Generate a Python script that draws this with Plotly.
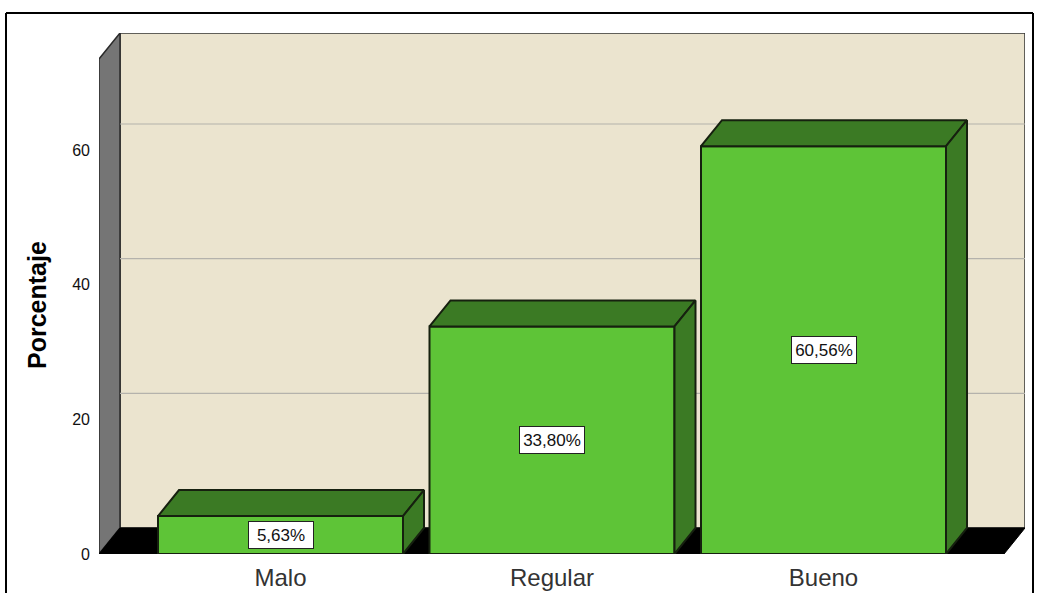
import plotly.graph_objects as go

categories = ["Malo", "Regular", "Bueno"]
values = [5.63, 33.80, 60.56]
labels = ["5,63%", "33,80%", "60,56%"]
y_ticks = [0, 20, 40, 60]

W, H = 1040, 593
L, R, T, B = 99, 1025, 33, 554
px_y = (553 - 149) / 60.0
px_x = 271.5
x0_px = 280.5
depth_px_x, depth_px_y = 21, 26

FONT = "Liberation Sans"
GREEN, DARK = "#5EC437", "#3B7A24"
EDGE = "#16200F"
WALL, SIDE = "#EBE4CF", "#757575"

x_lo = (L - x0_px) / px_x
x_hi = (R - x0_px) / px_x
y_hi = (B - T) / px_y
dx = depth_px_x / px_x
dy = depth_px_y / px_y
bw = 245 / px_x
xs = list(range(len(categories)))
wall_l = x_lo + dx
wall_r = x_hi
floor_r = x_hi - dx


def poly(pts, fill, line="#222222", width=1.5):
    path = "M " + " L ".join(f"{a},{b}" for a, b in pts) + " Z"
    return dict(type="path", path=path, xref="x", yref="y", fillcolor=fill,
                line=dict(color=line, width=width), layer="below")


shapes = [
    poly([(wall_l, dy), (wall_r, dy), (wall_r, y_hi), (wall_l, y_hi)], WALL, "#333333", 1.5),
    poly([(x_lo, 0), (wall_l, dy), (wall_l, y_hi), (x_lo, y_hi - dy)], SIDE, "#2a2a2a", 1.5),
    poly([(x_lo, 0), (wall_l, dy), (wall_r, dy), (floor_r, 0)], "#000000", "#000000", 1),
]
for t in y_ticks[1:]:
    shapes.append(dict(type="line", xref="x", yref="y", x0=wall_l, x1=wall_r, y0=t + dy, y1=t + dy,
                       line=dict(color="#B4B2AC", width=1.2), layer="below"))


def fx(p):
    return (p - L) / (R - L)


def fy(p):
    return (B - p) / (B - T)


frame = "#000000"
for a, b, c, d in [(6, 13, 1033, 13), (6, 13, 6, 600), (1033, 13, 1033, 600)]:
    shapes.append(dict(type="line", xref="paper", yref="paper", x0=fx(a), y0=fy(b), x1=fx(c), y1=fy(d),
                       line=dict(color=frame, width=2), layer="above"))

fig = go.Figure()
fig.add_trace(go.Bar(x=xs, y=values, width=bw, marker=dict(color=GREEN, line=dict(color=EDGE, width=2)),
                     hoverinfo="skip", showlegend=False))

for x, v in zip(xs, values):
    a, b = x - bw / 2, x + bw / 2
    top = [a, a + dx, b + dx, b, a]
    topy = [v, v + dy, v + dy, v, v]
    side = [b, b + dx, b + dx, b, b]
    sidey = [0, dy, v + dy, v, 0]
    for px, py in ((top, topy), (side, sidey)):
        fig.add_trace(go.Scatter(x=px, y=py, mode="lines", fill="toself", fillcolor=DARK,
                                 line=dict(color=EDGE, width=2), hoverinfo="skip", showlegend=False))

annotations = [
    dict(x=x, y=v / 2, text=t, showarrow=False, font=dict(family=FONT, size=17, color="#111111"),
         bgcolor="#FFFFFF", bordercolor="#222222", borderwidth=1, width=62, height=24)
    for x, v, t in zip(xs, values, labels)
]
annotations.append(dict(xref="paper", yref="paper", x=fx(37), y=fy(305), xanchor="center", yanchor="middle",
                        text="<b>Porcentaje</b>", textangle=-90,
                        showarrow=False, font=dict(family=FONT, size=25, color="#000000")))

fig.update_layout(
    width=W, height=H, margin=dict(l=L, r=W - R, t=T, b=H - B, autoexpand=False),
    paper_bgcolor="#FFFFFF", plot_bgcolor="#FFFFFF", shapes=shapes, annotations=annotations,
    xaxis=dict(range=[x_lo, x_hi], tickvals=xs, ticktext=categories, showgrid=False, zeroline=False,
               automargin=False, showline=False, ticks="", ticklabelstandoff=7,
               tickfont=dict(family=FONT, size=24, color="#333333")),
    yaxis=dict(range=[0, y_hi], tickvals=y_ticks, showgrid=False, zeroline=False, showline=False,
               automargin=False, ticks="", ticklen=0, ticklabelstandoff=8,
               tickfont=dict(family=FONT, size=16, color="#111111")),
)
fig.write_html("out.html", config=dict(displayModeBar=False),
               post_script="document.body.style.margin='0';document.body.style.overflow='hidden';")
